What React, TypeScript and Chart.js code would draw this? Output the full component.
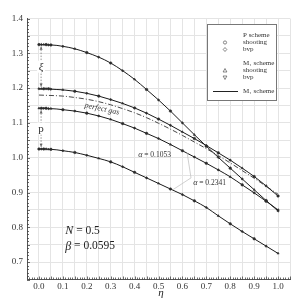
import React, { useEffect, useRef } from 'react';
import { Chart, registerables } from 'chart.js';

Chart.register(...registerables);

// eta positions of computed points (dense near the wall)
const eta = [0, 0.01, 0.02, 0.03, 0.04, 0.05, 0.1, 0.15, 0.2, 0.25, 0.3, 0.35, 0.4, 0.45, 0.5, 0.55, 0.6, 0.65, 0.7, 0.75, 0.8, 0.85, 0.9, 0.95, 1.0];

// xi profiles
const xiUpper = [1.325, 1.325, 1.325, 1.325, 1.324, 1.324, 1.320, 1.313, 1.302, 1.289, 1.272, 1.250, 1.225, 1.196, 1.166, 1.134, 1.100, 1.066, 1.033, 1.001, 0.970, 0.939, 0.908, 0.877, 0.847];
const xiLower = [1.198, 1.198, 1.198, 1.198, 1.198, 1.197, 1.195, 1.191, 1.185, 1.177, 1.167, 1.156, 1.143, 1.128, 1.111, 1.093, 1.074, 1.055, 1.035, 1.014, 0.993, 0.970, 0.946, 0.919, 0.890];
// p profiles
const pUpper = [1.142, 1.142, 1.142, 1.142, 1.141, 1.141, 1.138, 1.134, 1.128, 1.120, 1.110, 1.098, 1.085, 1.070, 1.055, 1.038, 1.020, 1.002, 0.984, 0.965, 0.945, 0.922, 0.899, 0.875, 0.850];
const pLower = [1.025, 1.025, 1.025, 1.025, 1.024, 1.024, 1.020, 1.015, 1.007, 0.998, 0.988, 0.974, 0.958, 0.942, 0.926, 0.910, 0.894, 0.876, 0.857, 0.833, 0.810, 0.788, 0.767, 0.746, 0.725];

// perfect gas curve
const gasEta = [0, 0.1, 0.15, 0.2, 0.25, 0.3, 0.35, 0.4, 0.45, 0.5, 0.55, 0.6, 0.65, 0.7, 0.75, 0.8, 0.85, 0.9, 0.95, 1.0];
const perfectGas = [1.180, 1.177, 1.173, 1.168, 1.161, 1.152, 1.141, 1.129, 1.115, 1.099, 1.082, 1.064, 1.045, 1.026, 1.006, 0.985, 0.963, 0.941, 0.918, 0.895];

const xTickLabels = ['0.0', '0.1', '0.2', '0.3', '0.4', '0.5', '0.6', '0.7', '0.8', '0.9', '1.0'];
const yTickLabels = ['0.7', '0.8', '0.9', '1.0', '1.1', '1.2', '1.3', '1.4'];

const SERIF = "'Liberation Serif', 'DejaVu Serif', serif";
const markerStyles = ['circle', 'rectRot', 'triangle', 'circle', 'rectRot'];

const toPts = (xs: number[], ys: number[]) => xs.map((x, i) => ({ x, y: ys[i] }));

const curveDataset = (label: string, ys: number[], k: number) => ({
  label,
  data: toPts(eta, ys),
  borderColor: '#1a1a1a',
  backgroundColor: '#2a2a2a',
  borderWidth: 1,
  pointRadius: 1.3,
  pointStyle: eta.map((_, i) => markerStyles[(i + k) % markerStyles.length]),
  pointBorderWidth: 0.5,
  pointBorderColor: '#333',
  tension: 0.4,
  cubicInterpolationMode: 'monotone' as const,
});

const tickPlugin = {
  id: 'minorTicks',
  afterDraw(chart: any) {
    const { ctx, chartArea: a, scales } = chart;
    const x = scales.x, y = scales.y;
    ctx.save();
    ctx.strokeStyle = '#444';
    ctx.lineWidth = 0.8;
    ctx.beginPath();
    for (let i = -5; i <= 105; i++) {
      const px = Math.round(x.getPixelForValue(i / 100)) + 0.5;
      const len = i % 5 === 0 ? 3 : 2;
      ctx.moveTo(px, a.bottom);
      ctx.lineTo(px, a.bottom - len);
    }
    for (let i = 65; i <= 140; i++) {
      const py = Math.round(y.getPixelForValue(i / 100)) + 0.5;
      const len = i % 5 === 0 ? 3 : 2;
      ctx.moveTo(a.left, py);
      ctx.lineTo(a.left + len, py);
    }
    ctx.stroke();
    ctx.restore();
  },
};

function arrowHead(ctx: CanvasRenderingContext2D, x: number, y: number, dir: number) {
  ctx.beginPath();
  ctx.moveTo(x, y);
  ctx.lineTo(x - 1.5, y - dir * 3.2);
  ctx.lineTo(x + 1.5, y - dir * 3.2);
  ctx.closePath();
  ctx.fill();
}

const annotationPlugin = {
  id: 'annotations',
  afterDatasetsDraw(chart: any) {
    const { ctx, scales } = chart;
    const X = (v: number) => scales.x.getPixelForValue(v);
    const Y = (v: number) => scales.y.getPixelForValue(v);
    ctx.save();

    const arrows: [number, number, string, boolean][] = [
      [xiUpper[0], xiLower[0], 'ξ', true],
      [pUpper[0], pLower[0], 'p', false],
    ];
    const ax = X(0.009);
    arrows.forEach(([top, bot, lab, italic]) => {
      const y1 = Y(top) + 2, y2 = Y(bot) - 2;
      ctx.strokeStyle = '#666';
      ctx.fillStyle = '#666';
      ctx.lineWidth = 0.7;
      ctx.setLineDash([1.5, 1.5]);
      ctx.beginPath();
      ctx.moveTo(ax, y1);
      ctx.lineTo(ax, y2);
      ctx.stroke();
      ctx.setLineDash([]);
      arrowHead(ctx, ax, y1, -1);
      arrowHead(ctx, ax, y2, 1);
      const my = (Y(top) + Y(bot)) / 2;
      ctx.fillStyle = '#fff';
      ctx.fillRect(ax - 4, my - 6, 8, 12);
      ctx.fillStyle = '#333';
      ctx.font = `${italic ? 'italic ' : ''}11px ${SERIF}`;
      ctx.textAlign = 'center';
      ctx.textBaseline = 'middle';
      ctx.fillText(lab, ax, my);
    });

    // leader lines for alpha labels
    ctx.strokeStyle = '#c4c4c4';
    ctx.lineWidth = 0.8;
    ctx.beginPath();
    ctx.moveTo(X(0.62), Y(1.013));
    ctx.lineTo(X(0.636), Y(0.942));
    ctx.lineTo(X(0.56), Y(0.908));
    ctx.stroke();

    // perfect gas label
    ctx.save();
    ctx.translate(X(0.264), Y(1.14));
    ctx.rotate(12 * Math.PI / 180);
    ctx.fillStyle = '#333';
    ctx.font = `italic 8px ${SERIF}`;
    ctx.textAlign = 'center';
    ctx.textBaseline = 'middle';
    ctx.fillText('perfect gas', 0, 0);
    ctx.restore();

    const alphaLabel = (x: number, y: number, txt: string) => {
      ctx.fillStyle = '#333';
      ctx.textBaseline = 'middle';
      ctx.textAlign = 'left';
      ctx.font = `italic 8px ${SERIF}`;
      ctx.fillText('α', x, y);
      const w = ctx.measureText('α').width;
      ctx.font = `7.5px ${SERIF}`;
      ctx.fillText(' = ' + txt, x + w, y);
    };
    alphaLabel(X(0.415), Y(1.008), '0.1053');
    alphaLabel(X(0.645), Y(0.927), '0.2341');

    const param = (x: number, y: number, sym: string, val: string) => {
      ctx.fillStyle = '#222';
      ctx.textBaseline = 'middle';
      ctx.textAlign = 'left';
      ctx.font = `italic 12px ${SERIF}`;
      ctx.fillText(sym, x, y);
      const w = ctx.measureText(sym).width;
      ctx.font = `11.5px ${SERIF}`;
      ctx.fillText(' = ' + val, x + w, y);
    };
    param(X(0.11), Y(0.79), 'N', '0.5');
    param(X(0.11), Y(0.745), 'β', '0.0595');

    ctx.restore();
  },
  afterDraw(chart: any) {
    const { ctx } = chart;
    ctx.save();
    ctx.fillStyle = '#222';
    ctx.font = `italic 11px ${SERIF}`;
    ctx.textAlign = 'center';
    ctx.textBaseline = 'middle';
    ctx.fillText('η', 161, 293);

    const L = 207.5, T = 24.5, R = 276.5, B = 100.5;
    ctx.fillStyle = '#fff';
    ctx.fillRect(L, T, R - L, B - T);
    ctx.strokeStyle = '#777';
    ctx.lineWidth = 1;
    ctx.strokeRect(L, T, R - L, B - T);

    ctx.font = `7px ${SERIF}`;
    ctx.textAlign = 'left';
    ctx.fillStyle = '#333';
    const tx = 243;
    const mx = 225;
    ctx.fillText('P scheme', tx, 35);
    ctx.fillText('shooting', tx, 42.5);
    ctx.fillText('bvp', tx, 49.5);
    ctx.fillText('M\u2081 scheme', tx, 63.5);
    ctx.fillText('shooting', tx, 70.5);
    ctx.fillText('bvp', tx, 77.5);
    ctx.fillText('M\u2081 scheme', tx, 91.5);

    ctx.strokeStyle = '#555';
    ctx.fillStyle = '#555';
    ctx.lineWidth = 0.7;
    ctx.beginPath(); ctx.arc(mx, 42.5, 1.6, 0, Math.PI * 2); ctx.stroke();
    ctx.beginPath(); ctx.moveTo(mx, 47.5); ctx.lineTo(mx + 1.8, 49.5); ctx.lineTo(mx, 51.5); ctx.lineTo(mx - 1.8, 49.5); ctx.closePath(); ctx.stroke();
    ctx.beginPath(); ctx.moveTo(mx, 68.5); ctx.lineTo(mx + 1.9, 72); ctx.lineTo(mx - 1.9, 72); ctx.closePath(); ctx.stroke();
    ctx.beginPath(); ctx.moveTo(mx, 79.5); ctx.lineTo(mx + 1.9, 76); ctx.lineTo(mx - 1.9, 76); ctx.closePath(); ctx.stroke();
    ctx.strokeStyle = '#222';
    ctx.lineWidth = 1;
    ctx.beginPath(); ctx.moveTo(213, 91.5); ctx.lineTo(238, 91.5); ctx.stroke();
    ctx.restore();
  },
};

export default function App() {
  const ref = useRef<HTMLCanvasElement | null>(null);

  useEffect(() => {
    if (!ref.current) return;
    const chart = new Chart(ref.current, {
      type: 'line',
      data: {
        datasets: [
          curveDataset('xi upper', xiUpper, 0),
          curveDataset('xi lower', xiLower, 1),
          {
            label: 'perfect gas',
            data: toPts(gasEta, perfectGas),
            borderColor: '#333',
            borderWidth: 0.9,
            borderDash: [5, 2, 1, 2],
            pointRadius: 0,
            tension: 0.4,
            cubicInterpolationMode: 'monotone' as const,
          },
          curveDataset('p upper', pUpper, 2),
          curveDataset('p lower', pLower, 3),
        ],
      },
      options: {
        responsive: false,
        animation: false,
        layout: { padding: { top: 18.5, right: 9, left: 0, bottom: 0 } },
        plugins: { legend: { display: false }, tooltip: { enabled: false } },
        scales: {
          x: {
            type: 'linear',
            min: -0.05,
            max: 1.05,
            afterFit: (s: any) => { s.height = 22.5; },
            ticks: {
              stepSize: 0.05,
              autoSkip: false,
              maxRotation: 0,
              padding: 2,
              color: '#333',
              font: { family: SERIF, size: 9 },
              callback: (v: any) => {
                const n = Math.round(Number(v) * 100);
                return n % 10 === 0 && n >= 0 && n <= 100 ? xTickLabels[n / 10] : '';
              },
            },
            grid: { color: '#e4e4e4', lineWidth: 1, drawTicks: false },
            border: { color: '#555', width: 1 },
          },
          y: {
            type: 'linear',
            min: 0.65,
            max: 1.4,
            afterFit: (s: any) => { s.width = 27; },
            ticks: {
              stepSize: 0.05,
              autoSkip: false,
              padding: 4,
              color: '#333',
              font: { family: SERIF, size: 9 },
              callback: (v: any) => {
                const n = Math.round(Number(v) * 100);
                return n % 10 === 0 && n >= 70 && n <= 140 ? yTickLabels[(n - 70) / 10] : '';
              },
            },
            grid: { color: '#e4e4e4', lineWidth: 1, drawTicks: false },
            border: { color: '#555', width: 1 },
          },
        },
      },
      plugins: [tickPlugin, annotationPlugin],
    });
    return () => chart.destroy();
  }, []);

  return (
    <div style={{ position: 'absolute', left: 0, top: 0, width: 299, height: 302, background: '#fff' }}>
      <canvas ref={ref} width={299} height={302} style={{ display: 'block' }} />
    </div>
  );
}
